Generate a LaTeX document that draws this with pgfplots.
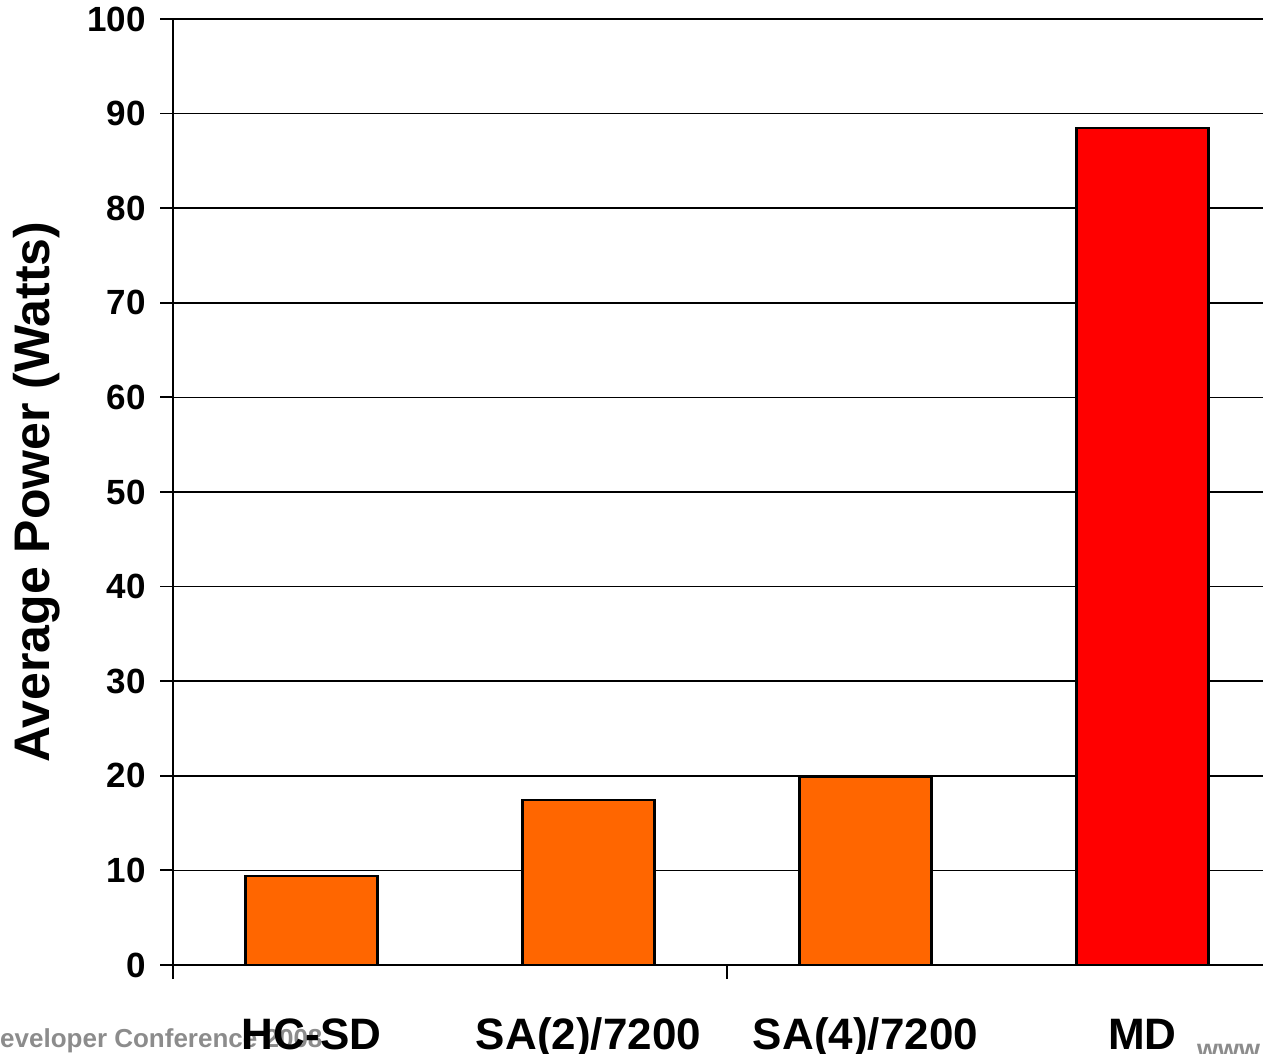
\documentclass[border=0pt]{standalone}
\usepackage{pgfplots}
\pgfplotsset{compat=1.18}
\usepackage{fontspec}
\setmainfont{Liberation Sans}

\definecolor{barorange}{HTML}{FF6600}
\definecolor{barred}{HTML}{FF0000}
\definecolor{footgrey}{HTML}{8C8C8C}

\pgfplotstableread{
x  power
0  9.4
1  17.4
2  19.9
}\drivepower
\pgfplotstableread{
x  power
3  88.5
}\mdpower

\begin{document}
\begin{tikzpicture}[x=1pt,y=1pt]
\useasboundingbox (0,0) rectangle (1263,1054);
% slide footer behind the chart
\node[anchor=base west, inner sep=0pt, text=footgrey, font=\fontsize{26}{30}\selectfont\bfseries]
  at (0,6) {\llap{D}eveloper Conference 2008};
\node[anchor=north west, inner sep=0pt, text=footgrey, font=\fontsize{27}{30}\selectfont\bfseries]
  at (1197,10) {www};
\begin{axis}[
  at={(173pt,89pt)}, anchor=south west,
  scale only axis, width=1108pt, height=946pt,
  xmin=-0.5, xmax=3.5, ymin=0, ymax=100,
  axis lines=left, axis line style={-, line width=2.2pt},
  ytick={0,10,...,100},
  ymajorgrids, grid style={black, line width=1.7pt},
  xtick={0,1,2,3},
  xticklabels={HC-SD,SA(2)/7200,SA(4)/7200,MD},
  minor xtick={-0.5,1.5,3.5},
  tick align=outside, tick style={black, line width=1.8pt},
  major tick length=13pt, minor tick length=14pt,
  xtick style={draw=none},
  minor x tick style={draw=black},
  /pgf/number format/assume math mode=true,
  yticklabel style={font=\fontsize{35}{40}\selectfont\bfseries, anchor=east, inner sep=0pt, xshift=-14pt},
  xticklabel style={font=\fontsize{44}{50}\selectfont\bfseries, anchor=base, inner sep=0pt, yshift=-71pt},
  ylabel={Average Power (Watts)},
  ylabel style={at={(axis description cs:-0.1227,0.5)}, anchor=center,
    font=\fontsize{50}{56}\selectfont\bfseries},
  clip=false,
]
\addplot[ybar, bar width=0.477, bar shift=0, fill=barorange, draw=black, line width=2.2pt]
  table[x=x, y=power] {\drivepower};
\addplot[ybar, bar width=0.477, bar shift=0, fill=barred, draw=black, line width=2.2pt]
  table[x=x, y=power] {\mdpower};
\end{axis}
\end{tikzpicture}
\end{document}
